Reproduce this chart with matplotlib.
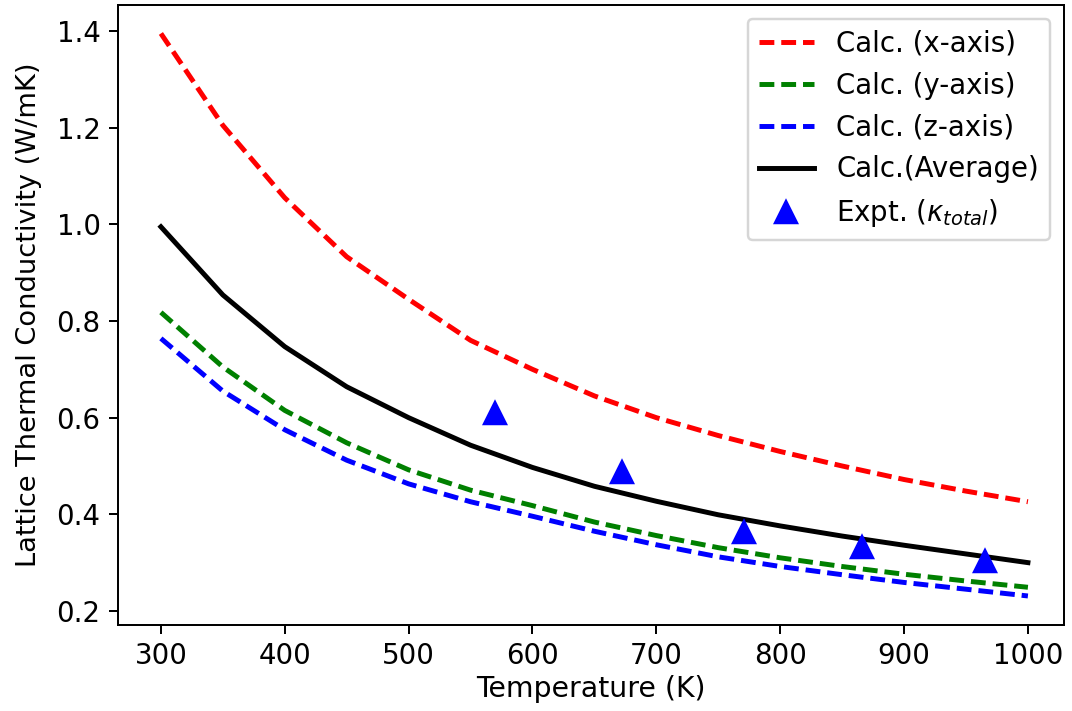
import matplotlib
matplotlib.use("Agg")
import matplotlib.pyplot as plt

# temperature grid of the calculation (K)
temp = [300, 350, 400, 450, 500, 550, 600, 650, 700, 750, 800, 850, 900, 950, 1000]

# lattice thermal conductivity (W/mK)
kappa_x = [1.395, 1.205, 1.055, 0.933, 0.845, 0.76, 0.70, 0.645, 0.60, 0.563,
           0.53, 0.50, 0.472, 0.448, 0.426]
kappa_y = [0.818, 0.705, 0.615, 0.548, 0.492, 0.450, 0.418, 0.384, 0.356, 0.331,
           0.31, 0.292, 0.276, 0.262, 0.249]
kappa_z = [0.764, 0.655, 0.575, 0.512, 0.463, 0.426, 0.396, 0.365, 0.337, 0.312,
           0.292, 0.275, 0.259, 0.245, 0.231]
kappa_avg = [0.995, 0.854, 0.747, 0.664, 0.60, 0.543, 0.497, 0.458, 0.427, 0.399,
             0.376, 0.355, 0.336, 0.318, 0.30]

# experiment
temp_exp = [570, 672, 771, 866, 965]
kappa_exp = [0.609, 0.488, 0.363, 0.332, 0.304]

plt.rcParams["font.size"] = 11.5
plt.rcParams["xtick.labelsize"] = 11.2
plt.rcParams["ytick.labelsize"] = 11.2

fig, ax = plt.subplots(figsize=(1072 / 178, 711 / 178), dpi=178)
fig.subplots_adjust(left=0.110, right=0.9925, top=0.993, bottom=0.121)

dash = (3.0, 1.4)
ax.plot(temp, kappa_x, "r--", lw=2, dashes=dash, label="Calc. (x-axis)")
ax.plot(temp, kappa_y, "g--", lw=2, dashes=dash, label="Calc. (y-axis)")
ax.plot(temp, kappa_z, "b--", lw=2, dashes=dash, label="Calc. (z-axis)")
ax.plot(temp, kappa_avg, "k-", lw=2, label="Calc.(Average)")
ax.plot(temp_exp, kappa_exp, "b^", ms=8.5, ls="none", label=r"Expt. ($\kappa_{total}$)")

ax.set_xlabel("Temperature (K)", labelpad=2)
ax.set_ylabel("Lattice Thermal Conductivity (W/mK)", fontsize=11, labelpad=6)
ax.set_xlim(265.3, 1029.1)
ax.set_ylim(0.171, 1.454)
ax.set_xticks([300, 400, 500, 600, 700, 800, 900, 1000])
ax.set_yticks([0.2, 0.4, 0.6, 0.8, 1.0, 1.2, 1.4])
ax.legend(loc="upper right", fontsize=11.2)

fig.savefig("out.png", dpi=178)
